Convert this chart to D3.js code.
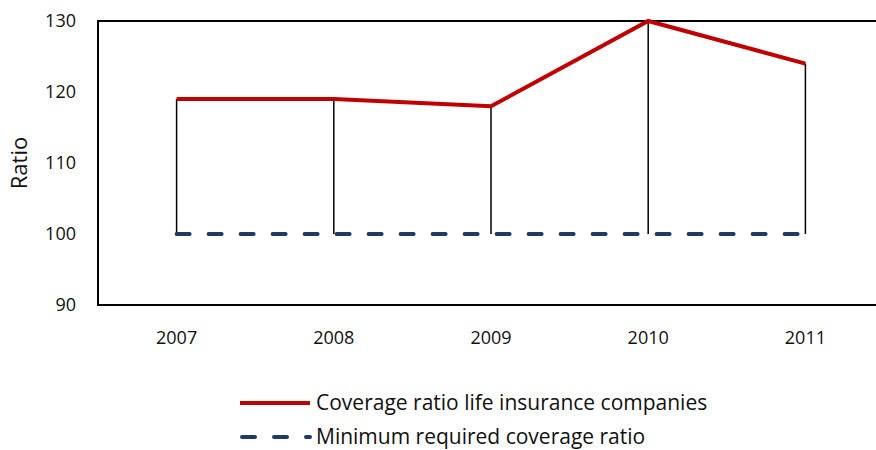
<!DOCTYPE html>
<html>
<head>
<meta charset="utf-8">
<script src="https://cdn.jsdelivr.net/npm/d3@7"></script>
<style>
  body { margin: 0; background: #fff; }
  text { font-family: "Open Sans", Lato, sans-serif; fill: #111; }
</style>
</head>
<body>
<div id="viz"></div>
<script>
var width = 876;
var height = 450;

var years = ["2007", "2008", "2009", "2010", "2011"];
var coverage = [119, 119, 118, 130, 124];
var minimum = [100, 100, 100, 100, 100];
var yTicks = [90, 100, 110, 120, 130];
var seriesNames = ["Coverage ratio life insurance companies", "Minimum required coverage ratio"];

var plotLeft = 98, plotRight = 884, plotTop = 21, plotBottom = 305;

var svg = d3.select("#viz")
    .append("svg")
    .attr("width", width)
    .attr("height", height);

var x = d3.scalePoint()
    .domain(years)
    .range([plotLeft, plotRight])
    .padding(0.5);

var y = d3.scaleLinear()
    .domain([90, 130])
    .range([plotBottom, plotTop]);

// frame: left, top, bottom (right side runs off the picture)
svg.append("path")
    .attr("d", "M" + plotRight + "," + plotTop + "H" + plotLeft + "V" + plotBottom + "H" + plotRight)
    .attr("fill", "none")
    .attr("stroke", "#000")
    .attr("stroke-width", 2);

// y tick labels
svg.selectAll("text.ytick")
    .data(yTicks)
    .enter()
    .append("text")
    .attr("class", "ytick")
    .attr("x", 76)
    .attr("y", d => y(d))
    .attr("dy", "0.35em")
    .attr("text-anchor", "end")
    .attr("font-size", 18)
    .text(d => d);

// x tick labels
svg.selectAll("text.xtick")
    .data(years)
    .enter()
    .append("text")
    .attr("class", "xtick")
    .attr("x", d => x(d))
    .attr("y", 344)
    .attr("text-anchor", "middle")
    .attr("font-size", 18)
    .text(d => d);

svg.append("text")
    .attr("transform", "translate(27," + y(110) + ") rotate(-90)")
    .attr("text-anchor", "middle")
    .attr("font-size", 22)
    .text("Ratio");

// drop lines
svg.selectAll("line.drop")
    .data(years)
    .enter()
    .append("line")
    .attr("class", "drop")
    .attr("x1", d => x(d))
    .attr("x2", d => x(d))
    .attr("y1", (d, i) => y(coverage[i]))
    .attr("y2", (d, i) => y(minimum[i]))
    .attr("stroke", "#000")
    .attr("stroke-width", 1.5);

var line = d3.line()
    .x(d => x(d.year))
    .y(d => y(d.value));

svg.append("path")
    .attr("d", line(years.map((d, i) => ({year: d, value: minimum[i]}))))
    .attr("fill", "none")
    .attr("stroke", "#1f3b63")
    .attr("stroke-width", 4)
    .attr("stroke-linecap", "round")
    .attr("stroke-dasharray", "13,19");

svg.append("path")
    .attr("d", line(years.map((d, i) => ({year: d, value: coverage[i]}))))
    .attr("fill", "none")
    .attr("stroke", "#c00000")
    .attr("stroke-width", 4);

// legend
var legend = svg.append("g");

legend.append("line")
    .attr("x1", 240).attr("x2", 310)
    .attr("y1", 403).attr("y2", 403)
    .attr("stroke", "#c00000")
    .attr("stroke-width", 4);

legend.append("line")
    .attr("x1", 242).attr("x2", 310)
    .attr("y1", 437).attr("y2", 437)
    .attr("stroke", "#1f3b63")
    .attr("stroke-width", 4)
    .attr("stroke-linecap", "round")
    .attr("stroke-dasharray", "13,19");

legend.selectAll("text")
    .data(seriesNames)
    .enter()
    .append("text")
    .attr("x", 316)
    .attr("y", (d, i) => 403 + i * 34)
    .attr("dy", "0.35em")
    .attr("font-size", 21)
    .text(d => d);
</script>
</body>
</html>
